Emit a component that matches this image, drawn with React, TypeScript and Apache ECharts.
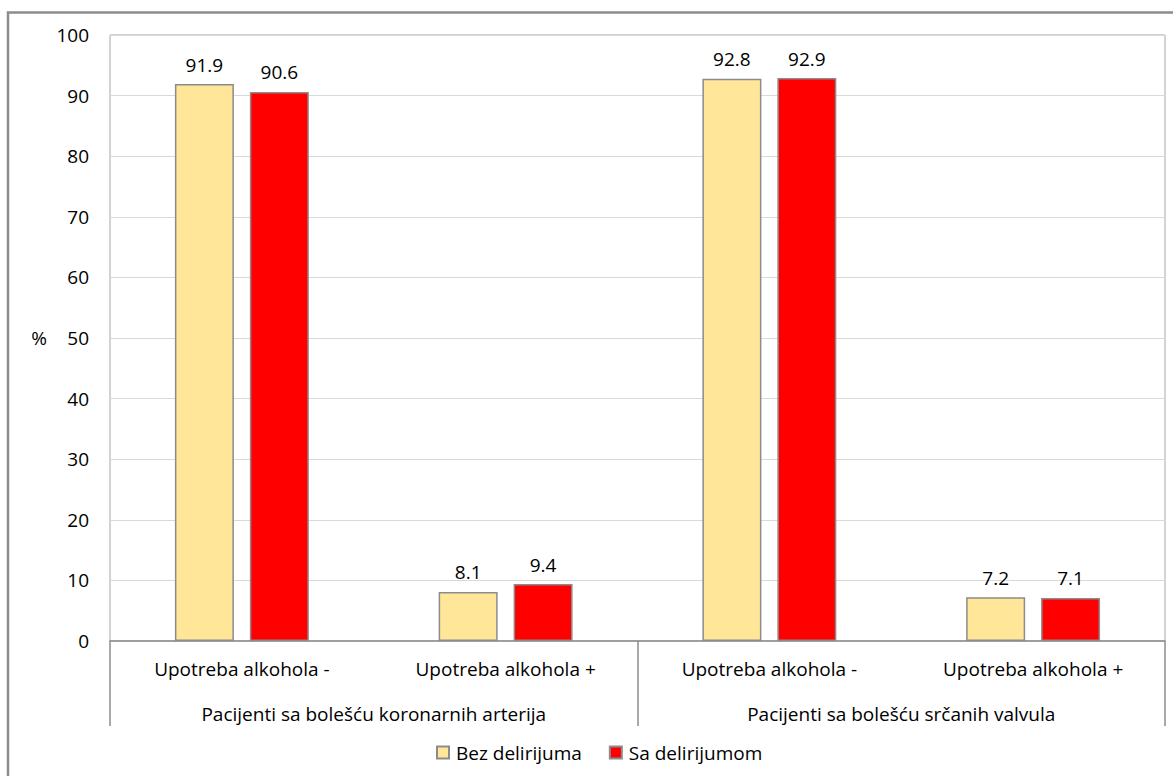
import React, { useEffect, useRef } from "react";
import * as echarts from "echarts";

// Inner categories (alcohol use) and outer groups (patient type)
const categories = [
  "Upotreba alkohola -",
  "Upotreba alkohola +",
  "Upotreba alkohola -",
  "Upotreba alkohola +",
];
const groups = [
  "Pacijenti sa bolešću koronarnih arterija",
  "Pacijenti sa bolešću srčanih valvula",
];
const seriesNames = ["Bez delirijuma", "Sa delirijumom"];
const bezDelirijuma = [91.9, 8.1, 92.8, 7.2];
const saDelirijumom = [90.6, 9.4, 92.9, 7.1];
const yTicks = { min: 0, max: 100, interval: 10 };

const FONT = "'Open Sans', sans-serif";
const FS = 19;
const BORDER = "#8c8c8c";

export default function App() {
  const ref = useRef<HTMLDivElement>(null);

  useEffect(() => {
    if (!ref.current) return;
    const chart = echarts.init(ref.current, null, { renderer: "svg" });

    const barLabel = {
      show: true,
      position: "top",
      distance: 10,
      color: "#000",
      fontFamily: FONT,
      fontSize: FS,
      formatter: (p: any) => Number(p.value).toFixed(1),
    };

    chart.setOption({
      animation: false,
      backgroundColor: "#fff",
      textStyle: { fontFamily: FONT },
      graphic: [
        {
          type: "rect",
          shape: { x: 8, y: 12.5, width: 1400, height: 1000 },
          style: { fill: "none", stroke: BORDER, lineWidth: 2.5 },
          silent: true,
        },
      ],
      legend: {
        bottom: 9,
        left: 431,
        itemWidth: 12,
        itemHeight: 12,
        itemGap: 27,
        icon: "rect",
        data: seriesNames,
        textStyle: { fontFamily: FONT, fontSize: FS, color: "#000", padding: [0, 0, 0, 2] },
      },
      grid: {
        left: 110,
        top: 35,
        right: 8,
        bottom: 135,
        show: true,
        borderColor: "#a6a6a6",
        borderWidth: 1,
      },
      xAxis: [
        {
          type: "category",
          data: categories,
          axisLine: { show: true, lineStyle: { color: BORDER, width: 1.5 } },
          axisTick: { show: false },
          axisLabel: {
            interval: 0,
            color: "#000",
            fontFamily: FONT,
            fontSize: FS,
            margin: 18,
          },
        },
        {
          type: "category",
          data: groups,
          position: "bottom",
          offset: 85,
          axisLine: { show: false },
          axisTick: {
            show: true,
            inside: true,
            length: 85,
            lineStyle: { color: BORDER, width: 1.5 },
          },
          axisLabel: {
            interval: 0,
            inside: true,
            color: "#000",
            fontFamily: FONT,
            fontSize: FS,
            margin: 3,
          },
        },
      ],
      yAxis: {
        type: "value",
        min: yTicks.min,
        max: yTicks.max,
        interval: yTicks.interval,
        name: "%",
        nameLocation: "middle",
        nameRotate: 0,
        nameGap: 63,
        nameTextStyle: { color: "#000", fontFamily: FONT, fontSize: FS },
        axisLine: { show: false },
        axisTick: { show: false },
        axisLabel: { color: "#000", fontFamily: FONT, fontSize: FS, margin: 21 },
        splitLine: { lineStyle: { color: "#d9d9d9", width: 1 } },
      },
      series: [
        {
          name: seriesNames[0],
          type: "bar",
          data: bezDelirijuma,
          barWidth: 59,
          barGap: "27%",
          itemStyle: { color: "#FFE699", borderColor: BORDER, borderWidth: 1.5 },
          label: barLabel,
        },
        {
          name: seriesNames[1],
          type: "bar",
          data: saDelirijumom,
          barWidth: 59,
          barGap: "27%",
          itemStyle: { color: "#FF0000", borderColor: BORDER, borderWidth: 1.5 },
          label: barLabel,
        },
      ],
    });

    return () => chart.dispose();
  }, []);

  return (
    <div
      ref={ref}
      style={{ position: "fixed", left: 0, top: 0, width: 1173, height: 776 }}
    />
  );
}
